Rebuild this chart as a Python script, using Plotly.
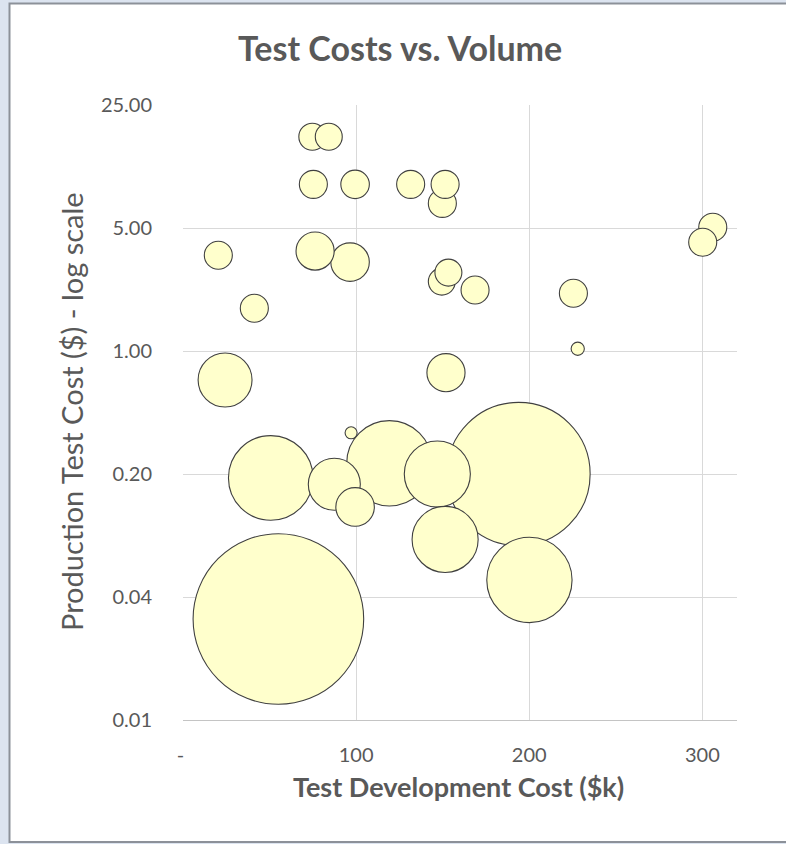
import plotly.graph_objects as go

# Test development cost ($k)
dev_cost = [74.7, 84.2, 75.3, 99.4, 131.5, 149.8, 151.4, 20.4, 76.3, 96.5,
            149.5, 153.3, 168.7, 225.5, 228.0, 306.0, 300.2, 41.2, 24.3, 151.9,
            97.1, 50.7, 87.4, 99.4, 119.2, 146.9, 151.4, 55.1, 193.8, 200.1]
# Production test cost ($), log scale
prod_cost = [16.5, 16.5, 8.85, 8.85, 8.85, 6.9, 8.85, 3.5, 3.7, 3.2,
             2.48, 2.79, 2.22, 2.13, 1.03, 5.05, 4.15, 1.75, 0.684, 0.753,
             0.343, 0.19, 0.175, 0.13, 0.23, 0.20, 0.085, 0.030, 0.20, 0.050]
# Volume (bubble size, area-proportional)
volume = [25, 25, 27, 28, 27, 27, 27, 27, 50, 51,
          25, 25, 27, 27, 6, 27, 27, 27, 100, 50,
          5, 246, 93, 51, 250, 150, 150, 1000, 705, 250]

x_tick_vals = [0, 100, 200, 300]
x_tick_text = ["-\u00a0", "100", "200", "300"]
y_tick_vals = [0.008, 0.04, 0.2, 1, 5, 25]
y_tick_text = ["0.01", "0.04", "0.20", "1.00", "5.00", "25.00"]

# draw larger bubbles first so smaller ones sit on top
order = sorted(range(len(volume)), key=lambda i: -volume[i])
xs = [dev_cost[i] for i in order]
ys = [prod_cost[i] for i in order]
vs = [volume[i] for i in order]

W, H = 786, 844
L, R, T, B = 183, 49, 105, 124
pw, ph = W - L - R, H - T - B
max_diam = 170.6
sizeref = 2.0 * max(volume) / (max_diam ** 2)

TXT = "#595959"
FONT = "Lato"

fig = go.Figure()
fig.add_trace(go.Scatter(
    x=xs, y=ys, mode="markers",
    marker=dict(size=vs, sizemode="area", sizeref=sizeref,
                color="#FFFFCC", line=dict(color="#404040", width=1.1),
                opacity=1),
    hoverinfo="x+y", showlegend=False,
))

def px_x(p):
    return (p - L) / pw

def px_y(p):
    return (H - B - p) / ph

fig.update_layout(
    width=W, height=H,
    margin=dict(l=L, r=R, t=T, b=B),
    paper_bgcolor="#DCE4F0",
    plot_bgcolor="rgba(0,0,0,0)",
    font=dict(family=FONT, color=TXT),
    shapes=[dict(type="rect", xref="paper", yref="paper", layer="below",
                 x0=px_x(9.5), x1=px_x(800), y0=px_y(842), y1=px_y(3.5),
                 fillcolor="white", line=dict(color="#8C9199", width=2))],
    annotations=[
        dict(text="<b>Test Costs vs. Volume</b>", xref="paper", yref="paper",
             x=px_x(400), y=px_y(48), xanchor="center", yanchor="middle",
             showarrow=False, font=dict(size=34, color=TXT, family=FONT)),
        dict(text="<b>Test Development Cost ($k)</b>", xref="paper", yref="paper",
             x=px_x(458), y=px_y(786), xanchor="center", yanchor="middle",
             showarrow=False, font=dict(size=27, color=TXT, family=FONT)),
        dict(text="Production Test Cost ($) - log scale", xref="paper", yref="paper",
             x=px_x(71), y=px_y(412), xanchor="center", yanchor="middle",
             textangle=-90, showarrow=False,
             font=dict(size=29, color=TXT, family=FONT)),
    ],
)
fig.update_xaxes(
    range=[0, 320], tickvals=x_tick_vals, ticktext=x_tick_text,
    showgrid=True, gridcolor="#D9D9D9", gridwidth=1, zeroline=False,
    showline=True, linecolor="#C4C4C4", linewidth=1,
    ticks="outside", ticklen=17, tickcolor="rgba(0,0,0,0)",
    tickfont=dict(size=20, color=TXT, family=FONT),
)
fig.update_yaxes(
    type="log", range=[-2.09691, 1.39794],
    tickvals=y_tick_vals, ticktext=y_tick_text,
    showgrid=True, gridcolor="#D9D9D9", gridwidth=1, zeroline=False,
    showline=False,
    ticks="outside", ticklen=26, tickcolor="rgba(0,0,0,0)",
    tickfont=dict(size=20, color=TXT, family=FONT),
)
fig.write_html(
    "out.html",
    config={"displayModeBar": False},
    post_script="document.body.style.margin='0';document.body.style.overflow='hidden';",
)
